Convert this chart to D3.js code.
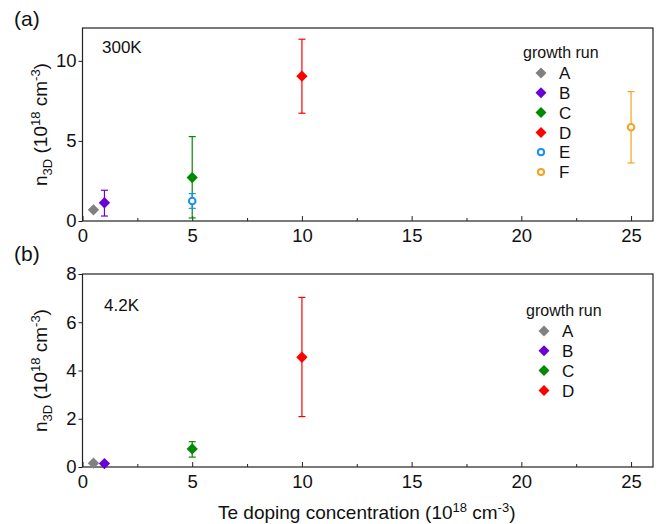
<!DOCTYPE html>
<html>
<head>
<meta charset="utf-8">
<script src="https://cdn.jsdelivr.net/npm/d3@7"></script>
<style>
  body { margin: 0; background: #fff; }
  text { font-family: "Liberation Sans", Arial, sans-serif; fill: #111; }
</style>
</head>
<body>
<div id="chart"></div>
<script>
// data
var runs = ["A", "B", "C", "D", "E", "F"];
var runColors = ["#808080", "#6a00d8", "#008a00", "#ff0000", "#1a90f0", "#f5a21c"];
var runShapes = ["diamond", "diamond", "diamond", "diamond", "circle", "circle"];

// 300K panel
var dopingA = [0.5, 1, 5, 10, 5, 25];
var nA      = [0.70, 1.14, 2.71, 9.04, 1.25, 5.85];
var nA_lo   = [0.70, 0.31, 0.19, 6.73, 0.79, 3.62];
var nA_hi   = [0.70, 1.92, 5.27, 11.35, 1.71, 8.08];

// 4.2K panel (runs A-D only)
var dopingB = [0.5, 1, 5, 10];
var nB      = [0.16, 0.14, 0.75, 4.55];
var nB_lo   = [0.16, 0.14, 0.41, 2.09];
var nB_hi   = [0.16, 0.14, 1.05, 7.03];

var xTicks = [0, 5, 10, 15, 20, 25];
var yTicksA = [0, 5, 10];
var yTicksB = [0, 2, 4, 6, 8];

var W = 661, H = 524;
var svg = d3.select("#chart").append("svg")
  .attr("width", W).attr("height", H);

var left = 82.5, right = 653;
var x = d3.scaleLinear().domain([0, 26]).range([left, right]);

// superscript part of the unit labels, first tspan can carry a dy to undo a subscript
function unitLabel(t, first, firstDy) {
  t.append("tspan").text(first).attr("dy", firstDy || 0);
  t.append("tspan").text("18").attr("dy", -7).style("font-size", "13px");
  t.append("tspan").text(" cm").attr("dy", 7);
  t.append("tspan").text("-3").attr("dy", -7).style("font-size", "13px");
  t.append("tspan").text(")").attr("dy", 7);
}

function marker(i, big) {
  if (runShapes[i] == "diamond") return d3.symbol().type(d3.symbolSquare).size(big ? 64 : 60)();
  return d3.symbol().type(d3.symbolCircle).size(big ? 34 : 30)();
}

function panel(opts) {
  var y = d3.scaleLinear().domain(opts.yDomain).range([opts.bottom, opts.top]);
  var g = svg.append("g");

  // x axis, ticks pointing inward
  var xMinor = d3.range(2.5, 26, 5);
  g.append("g")
    .attr("transform", "translate(0," + opts.bottom + ")")
    .call(d3.axisBottom(x).tickValues(xMinor).tickSize(-3).tickFormat(""))
    .call(function(a) { a.select(".domain").remove(); a.selectAll("line").attr("stroke", "#222"); });
  var xa = g.append("g")
    .attr("transform", "translate(0," + opts.bottom + ")")
    .call(d3.axisBottom(x).tickValues(xTicks).tickSize(-5).tickPadding(8).tickSizeOuter(0));
  xa.selectAll("text").style("font-size", "18.5px");
  xa.selectAll("line").attr("stroke", "#222");
  xa.select(".domain").remove();

  // y axis, ticks pointing outward
  var ya = g.append("g")
    .attr("transform", "translate(" + left + ",0)")
    .call(d3.axisLeft(y).tickValues(opts.yTicks).tickSize(4).tickPadding(2).tickSizeOuter(0));
  ya.selectAll("text").style("font-size", "18.5px");
  ya.selectAll("line").attr("stroke", "#222");
  ya.select(".domain").remove();

  // frame
  g.append("rect")
    .attr("x", left).attr("y", opts.top)
    .attr("width", right - left).attr("height", opts.bottom - opts.top)
    .attr("fill", "none").attr("stroke", "#222").attr("stroke-width", 1.2);

  // y title
  var yt = g.append("text")
    .attr("transform", "translate(47," + ((opts.top + opts.bottom) / 2) + ") rotate(-90)")
    .attr("text-anchor", "middle")
    .style("font-size", "19px");
  yt.append("tspan").text("n");
  yt.append("tspan").text("3D").attr("dy", 5).style("font-size", "13px");
  unitLabel(yt, " (10", -5);

  // panel letter and temperature
  g.append("text").attr("x", 14).attr("y", opts.letterY).text(opts.letter).style("font-size", "21px");
  g.append("text").attr("x", opts.tempX).attr("y", opts.tempY).text(opts.temp).style("font-size", "17px");

  // error bars
  var idx = d3.range(opts.xs.length);
  var eb = g.append("g").selectAll("g").data(idx).enter().append("g")
    .attr("stroke", function(i) { return runColors[i]; })
    .attr("stroke-width", 1.2);
  eb.filter(function(i) { return opts.hi[i] > opts.lo[i]; }).each(function(i) {
    var s = d3.select(this), cx = x(opts.xs[i]);
    s.append("line").attr("x1", cx).attr("x2", cx).attr("y1", y(opts.lo[i])).attr("y2", y(opts.hi[i]));
    s.append("line").attr("x1", cx - 3.5).attr("x2", cx + 3.5).attr("y1", y(opts.lo[i])).attr("y2", y(opts.lo[i]));
    s.append("line").attr("x1", cx - 3.5).attr("x2", cx + 3.5).attr("y1", y(opts.hi[i])).attr("y2", y(opts.hi[i]));
  });

  // markers
  g.append("g").selectAll("path").data(idx).enter().append("path")
    .attr("d", function(i) { return marker(i, true); })
    .attr("transform", function(i) {
      var t = "translate(" + x(opts.xs[i]) + "," + y(opts.ys[i]) + ")";
      return runShapes[i] == "diamond" ? t + " rotate(45)" : t;
    })
    .attr("fill", function(i) { return runShapes[i] == "diamond" ? runColors[i] : "#fff"; })
    .attr("stroke", function(i) { return runColors[i]; })
    .attr("stroke-width", function(i) { return runShapes[i] == "diamond" ? 0 : 2; });

  // legend
  var lg = g.append("g").attr("transform", "translate(" + opts.legX + "," + opts.legY + ")");
  lg.append("text").attr("x", -18).attr("y", 0).text("growth run").style("font-size", "16px");
  var items = lg.selectAll("g.item").data(idx).enter().append("g")
    .attr("transform", function(i) { return "translate(0," + (15 + i * 19.8) + ")"; });
  items.append("path")
    .attr("d", function(i) { return marker(i, false); })
    .attr("transform", function(i) { return runShapes[i] == "diamond" ? "rotate(45)" : ""; })
    .attr("fill", function(i) { return runShapes[i] == "diamond" ? runColors[i] : "#fff"; })
    .attr("stroke", function(i) { return runColors[i]; })
    .attr("stroke-width", function(i) { return runShapes[i] == "diamond" ? 0 : 2; });
  items.append("text").attr("x", 18).attr("dy", "0.36em").text(function(i) { return runs[i]; })
    .style("font-size", "17px");
}

panel({
  top: 28, bottom: 221, yDomain: [0, 12.05], yTicks: yTicksA,
  xs: dopingA, ys: nA, lo: nA_lo, hi: nA_hi,
  letter: "(a)", letterY: 26, temp: "300K", tempX: 102, tempY: 53,
  legX: 541, legY: 58
});

panel({
  top: 274, bottom: 467, yDomain: [0, 8], yTicks: yTicksB,
  xs: dopingB, ys: nB, lo: nB_lo, hi: nB_hi,
  letter: "(b)", letterY: 261, temp: "4.2K", tempX: 104, tempY: 311,
  legX: 544, legY: 316
});

// x title
var xt = svg.append("text")
  .attr("x", (left + right) / 2 - 1).attr("y", 519)
  .attr("text-anchor", "middle").style("font-size", "19px");
unitLabel(xt, "Te doping concentration (10");
</script>
</body>
</html>
